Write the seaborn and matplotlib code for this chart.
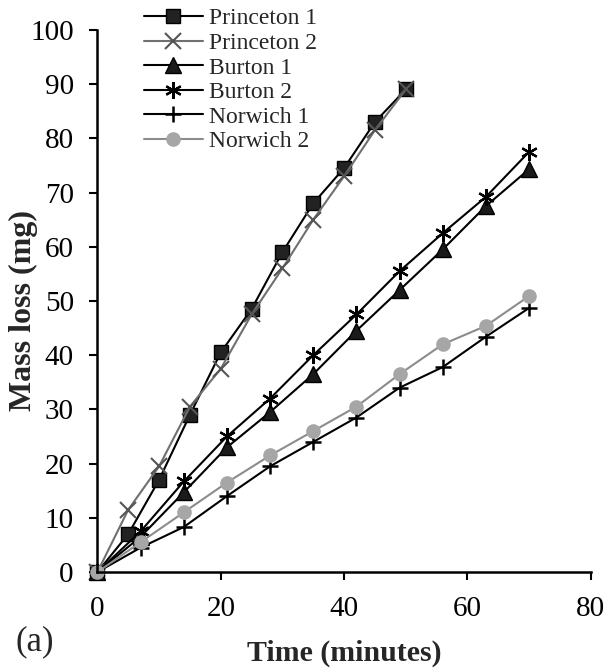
import pandas as pd
import matplotlib
matplotlib.use("Agg")
import matplotlib.pyplot as plt
import seaborn as sns

# Data
time_princeton = [0, 5, 10, 15, 20, 25, 30, 35, 40, 45, 50]
time_other = [0, 7, 14, 21, 28, 35, 42, 49, 56, 63, 70]
princeton_1 = [0, 7, 17, 29, 40.5, 48.5, 59, 68, 74.5, 83, 89]
princeton_2 = [0, 11.5, 19.5, 30.5, 37.5, 47.5, 56, 65, 73, 81.5, 89]
burton_1 = [0, 6.5, 14.7, 23, 29.5, 36.5, 44.5, 52, 59.5, 67.5, 74.3]
burton_2 = [0, 7.5, 16.7, 25, 32, 40, 47.5, 55.5, 62.5, 69.2, 77.5]
norwich_1 = [0, 4.5, 8.3, 14, 19.5, 24, 28.5, 34, 37.8, 43.4, 48.7]
norwich_2 = [0, 5.5, 11, 16.5, 21.5, 26, 30.5, 36.5, 42, 45.4, 50.9]

series = [
    ("Princeton 1", time_princeton, princeton_1),
    ("Princeton 2", time_princeton, princeton_2),
    ("Burton 1", time_other, burton_1),
    ("Burton 2", time_other, burton_2),
    ("Norwich 1", time_other, norwich_1),
    ("Norwich 2", time_other, norwich_2),
]

styles = {
    "Princeton 1": dict(color="black", marker="s", ms=10, mfc="#222222", mec="black", mew=1),
    "Princeton 2": dict(color="#707070", marker="x", ms=11, mfc="#555555", mec="#555555", mew=1.5),
    "Burton 1": dict(color="black", marker="^", ms=11, mfc="#1a1a1a", mec="black", mew=1),
    "Burton 2": dict(color="black", marker=(6, 2, 0), ms=12, mfc="black", mec="black", mew=1.6),
    "Norwich 1": dict(color="black", marker="+", ms=12, mfc="black", mec="black", mew=1.8),
    "Norwich 2": dict(color="#8c8c8c", marker="o", ms=9.5, mfc="#a6a6a6", mec="#a6a6a6", mew=1),
}

sns.set_style("ticks")
plt.rcParams["font.family"] = ["Liberation Serif", "DejaVu Serif"]

fig = plt.figure(figsize=(6.09, 6.71), dpi=100)
ax = fig.add_axes([0.160, 0.1475, 0.810, 0.808])

for name, t, m in series:
    df = pd.DataFrame({"Time": t, "Mass": m})
    st = styles[name]
    sns.lineplot(data=df, x="Time", y="Mass", ax=ax, label=name,
                 color=st["color"], marker=st["marker"], markersize=st["ms"],
                 markerfacecolor=st["mfc"], markeredgecolor=st["mec"],
                 markeredgewidth=st["mew"], linewidth=1.5, clip_on=False)

ax.set_xlim(0, 80)
ax.set_ylim(0, 100)
ax.set_xticks(range(0, 81, 20))
ax.set_yticks(range(0, 101, 10))
ax.tick_params(axis="both", direction="out", length=6, width=1.5,
               labelsize=21, colors="black", pad=11)
for side in ["left", "bottom"]:
    ax.spines[side].set_linewidth(1.8)
    ax.spines[side].set_color("black")
sns.despine(ax=ax)

ax.set_xlabel("Time (minutes)", fontsize=21.5, fontweight="bold", labelpad=13)
ax.set_ylabel("Mass loss (mg)", fontsize=23, fontweight="bold")
ax.yaxis.set_label_coords(-0.12, 0.483)

ax.legend(loc="upper left", bbox_to_anchor=(0.217, 1.006), bbox_transform=fig.transFigure,
          frameon=False, fontsize=17, handlelength=2.5, handletextpad=0.25,
          labelspacing=0.13, borderpad=0)

fig.text(0.025, 0.043, "(a)", fontsize=25, ha="left", va="center")

fig.savefig("out.png", dpi=100)
